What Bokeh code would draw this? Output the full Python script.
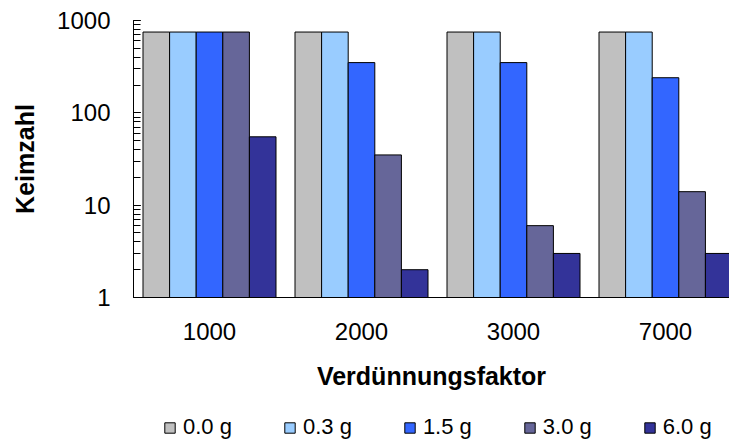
from bokeh.plotting import figure
from bokeh.layouts import column
from bokeh.models import Range1d, FixedTicker, LogTicker, Legend, LegendItem, NumeralTickFormatter
from bokeh.embed import file_html
from bokeh.resources import INLINE

factors = ["1000", "2000", "3000", "7000"]
series = ["0.0 g", "0.3 g", "1.5 g", "3.0 g", "6.0 g"]
v_00 = [750, 750, 750, 750]
v_03 = [750, 750, 750, 750]
v_15 = [750, 350, 350, 240]
v_30 = [750, 35, 6, 14]
v_60 = [55, 2, 3, 3]
colors = ["#C0C0C0", "#99CCFF", "#3366FF", "#666699", "#333399"]
values = [v_00, v_03, v_15, v_30, v_60]

FONT = "Liberation Sans"
bar_w = 0.175

p = figure(width=729, height=410, y_axis_type="log",
           x_range=Range1d(0, 3.921), y_range=Range1d(1, 1000),
           output_backend="svg", toolbar_location=None,
           min_border_left=133, min_border_right=0, min_border_top=20,
           min_border_bottom=113)
p.outline_line_color = None
p.xgrid.visible = False
p.ygrid.visible = False
p.background_fill_color = "white"
p.border_fill_color = "white"

for j, (name, vals, col) in enumerate(zip(series, values, colors)):
    xs = [i + 0.5 + (j - 2) * bar_w for i in range(len(factors))]
    p.vbar(x=xs, top=vals, bottom=1, width=bar_w, fill_color=col,
           line_color="black", line_width=1)

# x axis
p.xaxis.ticker = FixedTicker(ticks=[i + 0.5 for i in range(len(factors))])
p.xaxis.major_label_overrides = {i + 0.5: f for i, f in enumerate(factors)}
p.xaxis.major_tick_in = 0
p.xaxis.major_tick_out = 0
p.xaxis.minor_tick_in = 0
p.xaxis.minor_tick_out = 0
p.xaxis.axis_line_color = "black"
p.xaxis.major_label_text_font = FONT
p.xaxis.major_label_text_font_size = "24px"
p.xaxis.major_label_text_color = "black"
p.xaxis.major_label_standoff = 25
p.xaxis.axis_label = "Verdünnungsfaktor"
p.xaxis.axis_label_text_font = FONT
p.xaxis.axis_label_text_font_size = "25px"
p.xaxis.axis_label_text_font_style = "bold"
p.xaxis.axis_label_text_color = "black"
p.xaxis.axis_label_standoff = 19

# y axis
p.yaxis.ticker = LogTicker(num_minor_ticks=10)
p.yaxis.formatter = NumeralTickFormatter(format="0")
p.yaxis.major_tick_in = 7
p.yaxis.major_tick_out = 0
p.yaxis.minor_tick_in = 7
p.yaxis.minor_tick_out = 0
p.yaxis.axis_line_color = "black"
p.yaxis.major_tick_line_color = "black"
p.yaxis.minor_tick_line_color = "black"
p.yaxis.major_label_text_font = FONT
p.yaxis.major_label_text_font_size = "24px"
p.yaxis.major_label_text_color = "black"
p.yaxis.major_label_standoff = 23
p.yaxis.axis_label = "Keimzahl"
p.yaxis.axis_label_text_font = FONT
p.yaxis.axis_label_text_font_size = "25px"
p.yaxis.axis_label_text_font_style = "bold"
p.yaxis.axis_label_text_color = "black"
p.yaxis.axis_label_standoff = 15

# legend strip below the chart (frame aligned with the chart's frame)
pl = figure(width=729, height=31, x_range=Range1d(0, 1), y_range=Range1d(0, 1),
            output_backend="svg", toolbar_location=None,
            x_axis_location=None, y_axis_location=None, min_border=0)
pl.outline_line_color = None
pl.xgrid.visible = False
pl.ygrid.visible = False
items = []
nan = float("nan")
for name, col in zip(series, colors):
    r = pl.vbar(x=[nan], top=[nan], width=0.1, fill_color=col,
                line_color="black", line_width=1)
    items.append(LegendItem(label=name, renderers=[r]))

legend = Legend(items=items, orientation="horizontal", location=(30, 1),
                glyph_width=13, glyph_height=13, label_standoff=7, spacing=51,
                padding=0, margin=0, border_line_color=None,
                background_fill_alpha=0, label_text_font=FONT,
                label_text_font_size="22px", label_text_color="black")
pl.add_layout(legend)

layout = column(p, pl, spacing=0)
open("out.html", "w").write(file_html(layout, INLINE))
